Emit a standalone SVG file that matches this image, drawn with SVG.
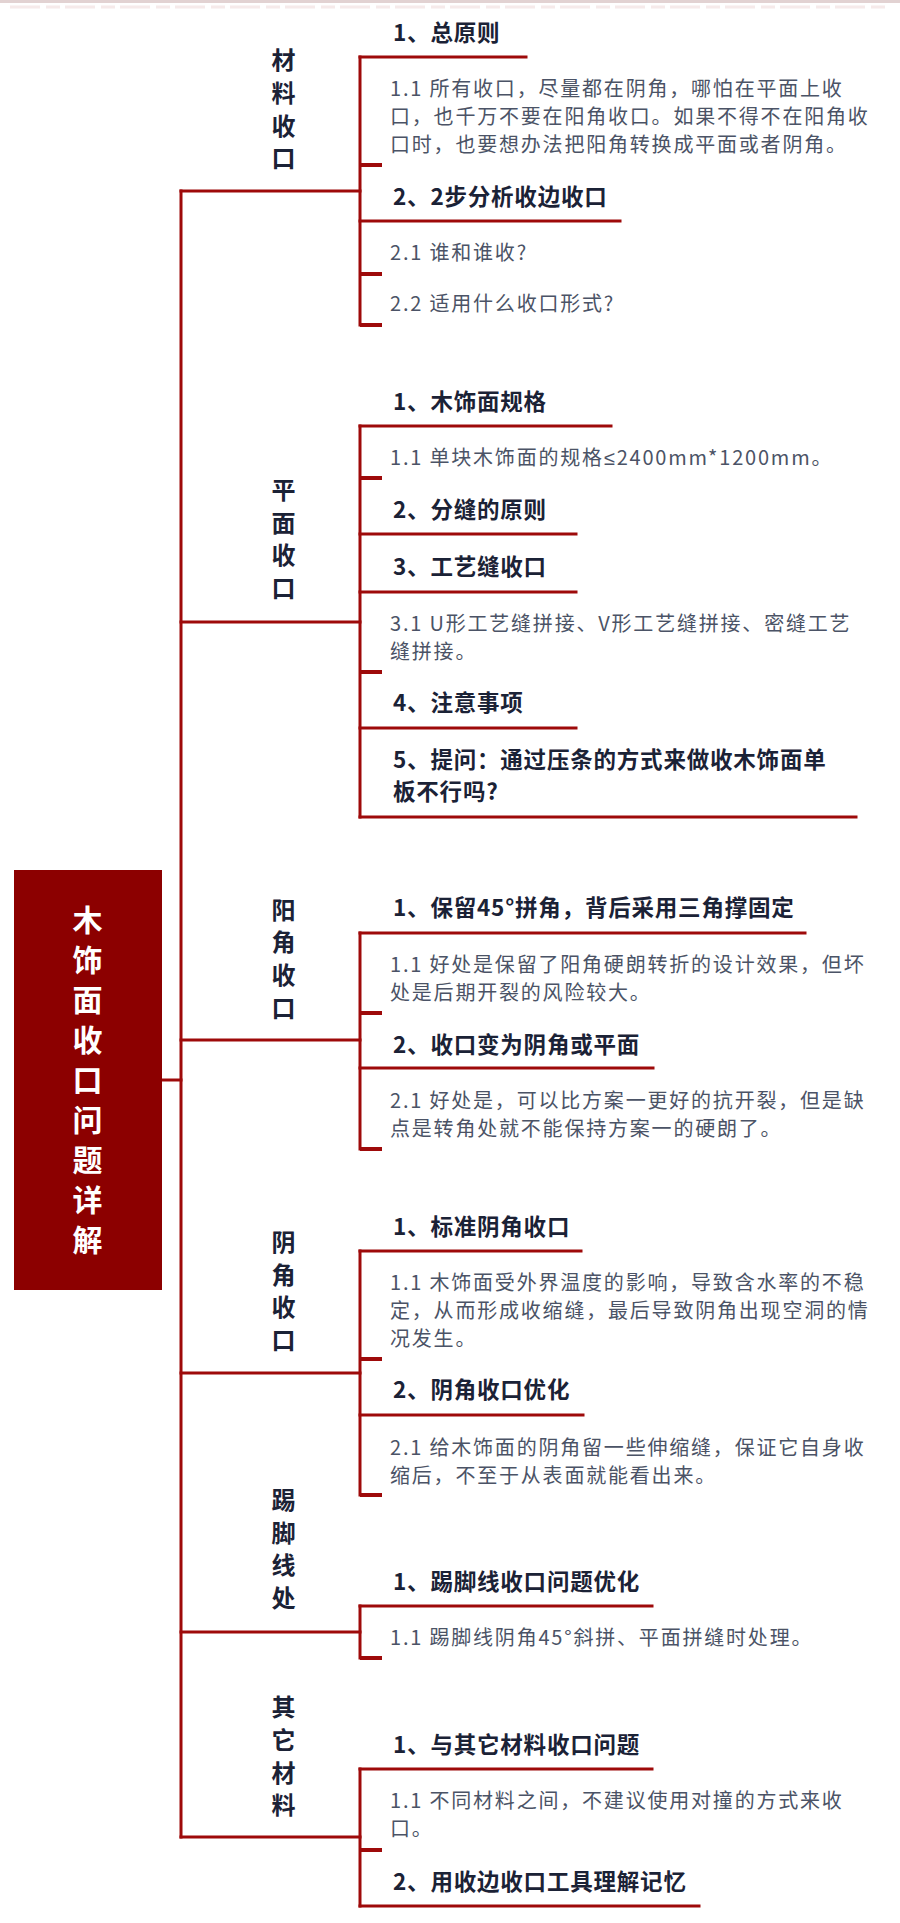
<svg xmlns="http://www.w3.org/2000/svg" width="900" height="1923" viewBox="0 0 900 1923">
<style>
.ln{stroke:#9e0a0a;stroke-width:3;fill:none;stroke-linecap:square}
.tk{stroke:#9e0a0a;stroke-width:4;fill:none}
.root{font-family:"Noto Sans CJK SC","Noto Sans",sans-serif;font-weight:bold;font-size:30px;fill:#ffffff;text-anchor:middle}
.cat{font-family:"Noto Sans CJK SC","Noto Sans",sans-serif;font-weight:bold;font-size:24px;fill:#1b2236;text-anchor:middle}
.hd{font-family:"Noto Sans CJK SC","Noto Sans",sans-serif;font-weight:bold;font-size:22.5px;letter-spacing:0.8px;fill:#1b2236}
.dt{font-family:"Noto Sans CJK SC","Noto Sans",sans-serif;font-size:20px;letter-spacing:1.8px;fill:#4b5366}
.sym{font-family:"Liberation Sans",sans-serif}
</style>
<rect x="0" y="0" width="900" height="1923" fill="#ffffff"/>
<line x1="0" y1="1.5" x2="900" y2="1.5" stroke="#e2d2d2" stroke-width="3"/>
<line x1="10" y1="7" x2="890" y2="7" stroke="#f6eaea" stroke-width="3" stroke-dasharray="30 6 14 5"/>

<g id="connectors">
  <line class="ln" x1="181" y1="191" x2="181" y2="1837"/>
  <line class="ln" x1="162" y1="1080" x2="181" y2="1080"/>
  <line class="ln" x1="181" y1="191" x2="360" y2="191"/>
  <line class="ln" x1="181" y1="622" x2="360" y2="622"/>
  <line class="ln" x1="181" y1="1040" x2="360" y2="1040"/>
  <line class="ln" x1="181" y1="1373" x2="360" y2="1373"/>
  <line class="ln" x1="181" y1="1632" x2="360" y2="1632"/>
  <line class="ln" x1="181" y1="1837" x2="360" y2="1837"/>
  <line class="ln" x1="360" y1="57" x2="360" y2="325"/>
  <line class="ln" x1="360" y1="426" x2="360" y2="817"/>
  <line class="ln" x1="360" y1="933" x2="360" y2="1149"/>
  <line class="ln" x1="360" y1="1251" x2="360" y2="1495"/>
  <line class="ln" x1="360" y1="1606" x2="360" y2="1658"/>
  <line class="ln" x1="360" y1="1769" x2="360" y2="1906"/>
  <line class="ln" x1="360" y1="57" x2="526" y2="57"/>
  <line class="ln" x1="360" y1="221" x2="620" y2="221"/>
  <line class="ln" x1="360" y1="426" x2="611" y2="426"/>
  <line class="ln" x1="360" y1="534" x2="576" y2="534"/>
  <line class="ln" x1="360" y1="592" x2="576" y2="592"/>
  <line class="ln" x1="360" y1="728" x2="576" y2="728"/>
  <line class="ln" x1="360" y1="817" x2="856" y2="817"/>
  <line class="ln" x1="360" y1="933" x2="805" y2="933"/>
  <line class="ln" x1="360" y1="1068" x2="653" y2="1068"/>
  <line class="ln" x1="360" y1="1251" x2="581" y2="1251"/>
  <line class="ln" x1="360" y1="1415" x2="583" y2="1415"/>
  <line class="ln" x1="360" y1="1606" x2="652" y2="1606"/>
  <line class="ln" x1="360" y1="1769" x2="652" y2="1769"/>
  <line class="ln" x1="360" y1="1906" x2="699" y2="1906"/>
  <line class="tk" x1="360" y1="165" x2="382" y2="165"/>
  <line class="tk" x1="360" y1="274" x2="382" y2="274"/>
  <line class="tk" x1="360" y1="325" x2="382" y2="325"/>
  <line class="tk" x1="360" y1="478" x2="382" y2="478"/>
  <line class="tk" x1="360" y1="672" x2="382" y2="672"/>
  <line class="tk" x1="360" y1="1013" x2="382" y2="1013"/>
  <line class="tk" x1="360" y1="1149" x2="382" y2="1149"/>
  <line class="tk" x1="360" y1="1359" x2="382" y2="1359"/>
  <line class="tk" x1="360" y1="1495" x2="382" y2="1495"/>
  <line class="tk" x1="360" y1="1658" x2="382" y2="1658"/>
  <line class="tk" x1="360" y1="1850" x2="382" y2="1850"/>
</g>

<g id="root">
  <rect x="14" y="870" width="148" height="420" fill="#8c0000"/>
  <text class="root" x="87.5" y="931">木</text>
  <text class="root" x="87.5" y="971">饰</text>
  <text class="root" x="87.5" y="1011">面</text>
  <text class="root" x="87.5" y="1051">收</text>
  <text class="root" x="87.5" y="1091">口</text>
  <text class="root" x="87.5" y="1131">问</text>
  <text class="root" x="87.5" y="1171">题</text>
  <text class="root" x="87.5" y="1211">详</text>
  <text class="root" x="87.5" y="1251">解</text>
</g>

<g id="cat-cailiao">
  <text class="cat" x="283.5" y="69">材</text>
  <text class="cat" x="283.5" y="102">料</text>
  <text class="cat" x="283.5" y="135">收</text>
  <text class="cat" x="283.5" y="167">口</text>
</g>
<g id="cat-pingmian">
  <text class="cat" x="283.5" y="499">平</text>
  <text class="cat" x="283.5" y="532">面</text>
  <text class="cat" x="283.5" y="564">收</text>
  <text class="cat" x="283.5" y="597">口</text>
</g>
<g id="cat-yangjiao">
  <text class="cat" x="283.5" y="919">阳</text>
  <text class="cat" x="283.5" y="951">角</text>
  <text class="cat" x="283.5" y="984">收</text>
  <text class="cat" x="283.5" y="1017">口</text>
</g>
<g id="cat-yinjiao">
  <text class="cat" x="283.5" y="1251">阴</text>
  <text class="cat" x="283.5" y="1284">角</text>
  <text class="cat" x="283.5" y="1316">收</text>
  <text class="cat" x="283.5" y="1349">口</text>
</g>
<g id="cat-tijiao">
  <text class="cat" x="283.5" y="1509">踢</text>
  <text class="cat" x="283.5" y="1542">脚</text>
  <text class="cat" x="283.5" y="1574">线</text>
  <text class="cat" x="283.5" y="1607">处</text>
</g>
<g id="cat-qita">
  <text class="cat" x="283.5" y="1716">其</text>
  <text class="cat" x="283.5" y="1749">它</text>
  <text class="cat" x="283.5" y="1782">材</text>
  <text class="cat" x="283.5" y="1814">料</text>
</g>

<g id="n-cl-1">
  <text class="hd" x="393" y="41">1、总原则</text>
</g>
<g id="n-cl-1-1">
  <text class="dt" x="390" y="96">1.1 所有收口，尽量都在阴角，哪怕在平面上收</text>
  <text class="dt" x="390" y="124">口，也千万不要在阳角收口。如果不得不在阳角收</text>
  <text class="dt" x="390" y="152">口时，也要想办法把阳角转换成平面或者阴角。</text>
</g>
<g id="n-cl-2">
  <text class="hd" x="393" y="205">2、2步分析收边收口</text>
</g>
<g id="n-cl-2-1">
  <text class="dt" x="390" y="260">2.1 谁和谁收?</text>
</g>
<g id="n-cl-2-2">
  <text class="dt" x="390" y="311">2.2 适用什么收口形式?</text>
</g>

<g id="n-pm-1">
  <text class="hd" x="393" y="410">1、木饰面规格</text>
</g>
<g id="n-pm-1-1">
  <text class="dt" x="390" y="465">1.1 单块木饰面的规格<tspan class="sym">≤</tspan>2400mm*1200mm。</text>
</g>
<g id="n-pm-2">
  <text class="hd" x="393" y="518">2、分缝的原则</text>
</g>
<g id="n-pm-3">
  <text class="hd" x="393" y="575">3、工艺缝收口</text>
</g>
<g id="n-pm-3-1">
  <text class="dt" x="390" y="631">3.1 U形工艺缝拼接、V形工艺缝拼接、密缝工艺</text>
  <text class="dt" x="390" y="659">缝拼接。</text>
</g>
<g id="n-pm-4">
  <text class="hd" x="393" y="711">4、注意事项</text>
</g>
<g id="n-pm-5">
  <text class="hd" x="393" y="768">5、提问：通过压条的方式来做收木饰面单</text>
  <text class="hd" x="393" y="800">板不行吗?</text>
</g>

<g id="n-yj-1">
  <text class="hd" x="393" y="916">1、保留45°拼角，背后采用三角撑固定</text>
</g>
<g id="n-yj-1-1">
  <text class="dt" x="390" y="972">1.1 好处是保留了阳角硬朗转折的设计效果，但坏</text>
  <text class="dt" x="390" y="1000">处是后期开裂的风险较大。</text>
</g>
<g id="n-yj-2">
  <text class="hd" x="393" y="1053">2、收口变为阴角或平面</text>
</g>
<g id="n-yj-2-1">
  <text class="dt" x="390" y="1108">2.1 好处是，可以比方案一更好的抗开裂，但是缺</text>
  <text class="dt" x="390" y="1136">点是转角处就不能保持方案一的硬朗了。</text>
</g>

<g id="n-yin-1">
  <text class="hd" x="393" y="1235">1、标准阴角收口</text>
</g>
<g id="n-yin-1-1">
  <text class="dt" x="390" y="1290">1.1 木饰面受外界温度的影响，导致含水率的不稳</text>
  <text class="dt" x="390" y="1318">定，从而形成收缩缝，最后导致阴角出现空洞的情</text>
  <text class="dt" x="390" y="1346">况发生。</text>
</g>
<g id="n-yin-2">
  <text class="hd" x="393" y="1398">2、阴角收口优化</text>
</g>
<g id="n-yin-2-1">
  <text class="dt" x="390" y="1455">2.1 给木饰面的阴角留一些伸缩缝，保证它自身收</text>
  <text class="dt" x="390" y="1483">缩后，不至于从表面就能看出来。</text>
</g>

<g id="n-tj-1">
  <text class="hd" x="393" y="1590">1、踢脚线收口问题优化</text>
</g>
<g id="n-tj-1-1">
  <text class="dt" x="390" y="1645">1.1 踢脚线阴角45°斜拼、平面拼缝时处理。</text>
</g>

<g id="n-qt-1">
  <text class="hd" x="393" y="1753">1、与其它材料收口问题</text>
</g>
<g id="n-qt-1-1">
  <text class="dt" x="390" y="1808">1.1 不同材料之间，不建议使用对撞的方式来收</text>
  <text class="dt" x="390" y="1836">口。</text>
</g>
<g id="n-qt-2">
  <text class="hd" x="393" y="1890">2、用收边收口工具理解记忆</text>
</g>
</svg>
